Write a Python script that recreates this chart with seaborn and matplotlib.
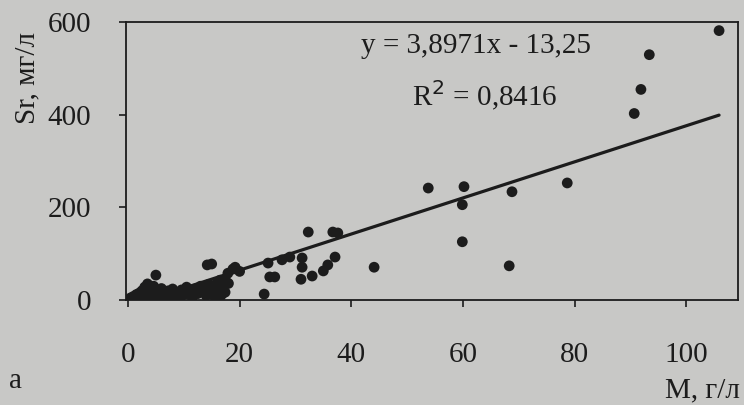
import numpy as np
import pandas as pd
import matplotlib
matplotlib.use("Agg")
import matplotlib.pyplot as plt
import seaborn as sns

# M, g/l
m_values = [
    0.3, 0.5, 0.8, 1.0, 1.2, 1.5, 1.8, 2.0, 2.2, 2.5, 2.8, 3.0, 3.2, 3.5, 3.8, 4.0,
    4.3, 4.6, 5.0, 5.2, 5.6, 6.0, 6.3, 6.8, 7.2, 7.6, 8.0, 8.4, 8.8, 9.2, 9.6, 10.0,
    10.5, 11.0, 11.5, 12.0, 12.5, 13.0, 13.5, 14.0, 14.5, 15.0, 15.5, 16.0, 16.5,
    17.0, 17.5, 18.0,
    5.0, 14.2, 15.0, 19.2, 20.0, 16.5, 17.4, 16.1, 18.8, 17.9, 16.5, 15.5, 16.8,
    24.4, 25.1, 25.4, 26.3, 27.6, 29.0, 31.2, 31.2, 31.0, 32.3, 33.0, 35.0, 35.8,
    36.7, 37.1, 37.6, 44.1,
    53.8, 59.9, 59.9, 60.2, 68.3, 68.8, 78.7, 90.7, 91.9, 93.4, 105.9,
]
# Sr, mg/l
sr_values = [
    2, 5, 3, 8, 1, 12, 6, 15, 3, 20, 10, 28, 18, 35, 8, 22,
    14, 30, 4, 18, 10, 25, 15, 6, 20, 12, 24, 8, 16, 3, 22, 12,
    28, 18, 6, 24, 14, 30, 20, 10, 34, 26, 16, 38, 8,
    30, 42, 36,
    54, 76, 78, 71, 62, 28, 17, 4, 67, 58, 43, 8, 12,
    13, 80, 50, 50, 87, 93, 91, 71, 45, 147, 52, 63, 76,
    147, 93, 145, 71,
    242, 126, 206, 245, 74, 234, 253, 403, 455, 530, 582,
]

slope = 3.8971
intercept = -13.25
r2 = 0.8416

df = pd.DataFrame({"M": m_values, "Sr": sr_values})

bg = "#c8c8c6"
ink = "#1c1c1c"

sns.set_theme(style="white")
plt.rcParams["font.family"] = ["Liberation Serif", "DejaVu Serif"]
plt.rcParams["text.color"] = ink
plt.rcParams["axes.labelcolor"] = ink
plt.rcParams["xtick.color"] = ink
plt.rcParams["ytick.color"] = ink

fig = plt.figure(figsize=(7.44, 4.05), dpi=100, facecolor=bg)
ax = fig.add_axes([0.169, 0.259, 0.823, 0.686], facecolor=bg)

sns.scatterplot(data=df, x="M", y="Sr", ax=ax, color=ink, s=60,
                edgecolor="none", linewidth=0, zorder=3)

# trend line from the fitted equation
xs = np.array([min(m_values), max(m_values)])
ax.plot(xs, slope * xs + intercept, color=ink, lw=2.3, zorder=2)

ax.set_xlim(-0.4, 109.3)
ax.set_ylim(0, 600)
ax.set_xticks([0, 20, 40, 60, 80, 100])
ax.set_yticks([0, 200, 400, 600])
ax.tick_params(axis="both", labelsize=21, length=5, width=1.2, direction="out",
               bottom=True, left=True)
ax.tick_params(axis="y", pad=20)
ax.tick_params(axis="x", pad=25)
for sp in ax.spines.values():
    sp.set_color(ink)
    sp.set_linewidth(1.3)

ax.set_xlabel("")
ax.set_ylabel("Sr, мг/л", fontsize=21)
ax.yaxis.set_label_coords(-0.14, 0.80)

ax.text(0.385, 0.915, "y = 3,8971x - 13,25", transform=ax.transAxes,
        fontsize=21, ha="left", va="center")
ax.text(0.468, 0.735, f"R$^2$ = {r2:.4f}".replace(".", ","), transform=ax.transAxes,
        fontsize=21, ha="left", va="center")

fig.text(0.995, 0.035, "М, г/л", fontsize=21, ha="right", va="center")
fig.text(0.012, 0.06, "a", fontsize=21, ha="left", va="center")

fig.savefig("out.png", dpi=100, facecolor=bg)
